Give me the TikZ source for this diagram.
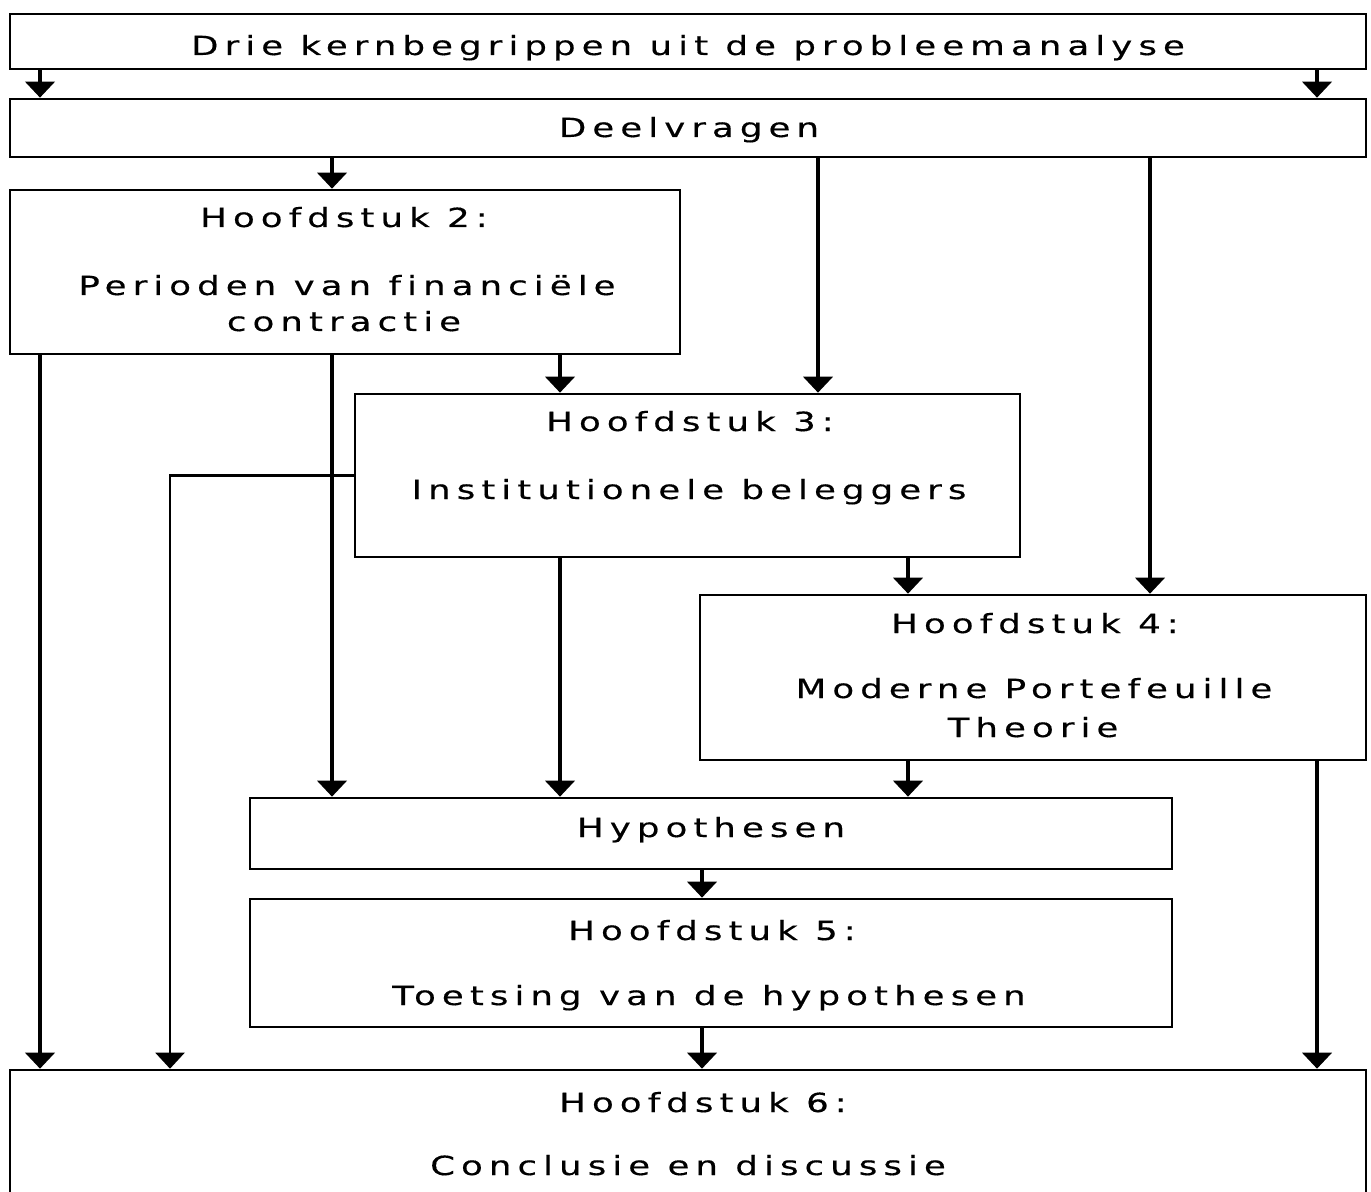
\documentclass[tikz,border=0pt]{standalone}
\usepackage{fontspec}
\setmainfont{DejaVu Sans}[FakeStretch=1.35, LetterSpace=23, FakeBold=0.4, Ligatures=NoCommon]
\usetikzlibrary{arrows.meta,positioning}

\tikzset{
  box/.style={draw, line width=1.5pt, inner sep=0pt},
  txt/.style={anchor=base, inner sep=0pt, font=\fontsize{15}{18}\selectfont},
  arr/.style={line width=2.8pt, -{Triangle[width=0.58cm,length=0.32cm]}},
  feedline/.style={line width=1.3pt, -{Triangle[width=0.58cm,length=0.32cm]}}
}

\begin{document}
\begin{tikzpicture}[x=0.02cm, y=-0.02cm]
 \useasboundingbox (0,0) rectangle (1371,1192);
 \clip (0,0) rectangle (1371,1192);
 %BOXES
 \node[box, minimum width=27.12cm, minimum height=1.10cm] (kern) at (688,41.5) {};
 \node[box, minimum width=27.12cm, minimum height=1.16cm] (deel) at (688,128) {};
 \node[box, minimum width=13.40cm, minimum height=3.28cm] (h2) at (345,272) {};
 \node[box, minimum width=13.30cm, minimum height=3.26cm] (h3) at (687.5,475.5) {};
 \node[box, minimum width=13.32cm, minimum height=3.30cm] (h4) at (1033,677.5) {};
 \node[box, minimum width=18.44cm, minimum height=1.42cm] (hyp) at (711,833.5) {};
 \node[box, minimum width=18.44cm, minimum height=2.56cm] (h5) at (711,963) {};
 \node[box, minimum width=27.12cm, minimum height=3.00cm] (h6) at (688,1145) {};
 %TEXTS
 \node[txt] (kernt) at (688,55) {Drie kernbegrippen uit de probleemanalyse};
 \node[txt] (deelt) at (689,137) {Deelvragen};
 \node[txt] (h2a) at (344,227) {Hoofdstuk 2:};
 \node[txt] (h2b) at (347,295) {Perioden van financiële};
 \node[txt] (h2c) at (344,331) {contractie};
 \node[txt] (h3a) at (690,431) {Hoofdstuk 3:};
 \node[txt] (h3b) at (689,499) {Institutionele beleggers};
 \node[txt] (h4a) at (1035,633) {Hoofdstuk 4:};
 \node[txt] (h4b) at (1034,698) {Moderne Portefeuille};
 \node[txt] (h4c) at (1033,737) {Theorie};
 \node[txt] (hypt) at (711,837) {Hypothesen};
 \node[txt] (h5a) at (712,940) {Hoofdstuk 5:};
 \node[txt] (h5b) at (709,1005) {Toetsing van de hypothesen};
 \node[txt] (h6a) at (703,1112) {Hoofdstuk 6:};
 \node[txt] (h6b) at (688,1175) {Conclusie en discussie};
 %COLUMNS
 \coordinate (c1) at (40,0);
 \coordinate (c2) at (170,0);
 \coordinate (c3) at (332,0);
 \coordinate (c4) at (560,0);
 \coordinate (c5) at (702,0);
 \coordinate (c6) at (818,0);
 \coordinate (c7) at (908,0);
 \coordinate (c8) at (1150,0);
 \coordinate (c9) at (1317,0);
 %ARROWS
 \draw[arr] (kern.south -| c1) -- (deel.north -| c1);
 \draw[arr] (kern.south -| c9) -- (deel.north -| c9);
 \draw[arr] (deel.south -| c3) -- (h2.north -| c3);
 \draw[arr] (deel.south -| c6) -- (h3.north -| c6);
 \draw[arr] (deel.south -| c8) -- (h4.north -| c8);
 \draw[arr] (h2.south -| c1) -- (h6.north -| c1);
 \draw[arr] (h2.south -| c3) -- (hyp.north -| c3);
 \draw[arr] (h2.south -| c4) -- (h3.north -| c4);
 \draw[feedline] (h3.west) -| (h6.north -| c2);
 \draw[arr] (h3.south -| c4) -- (hyp.north -| c4);
 \draw[arr] (h3.south -| c7) -- (h4.north -| c7);
 \draw[arr] (h4.south -| c7) -- (hyp.north -| c7);
 \draw[arr] (h4.south -| c9) -- (h6.north -| c9);
 \draw[arr] (hyp.south -| c5) -- (h5.north -| c5);
 \draw[arr] (h5.south -| c5) -- (h6.north -| c5);
\end{tikzpicture}
\end{document}
